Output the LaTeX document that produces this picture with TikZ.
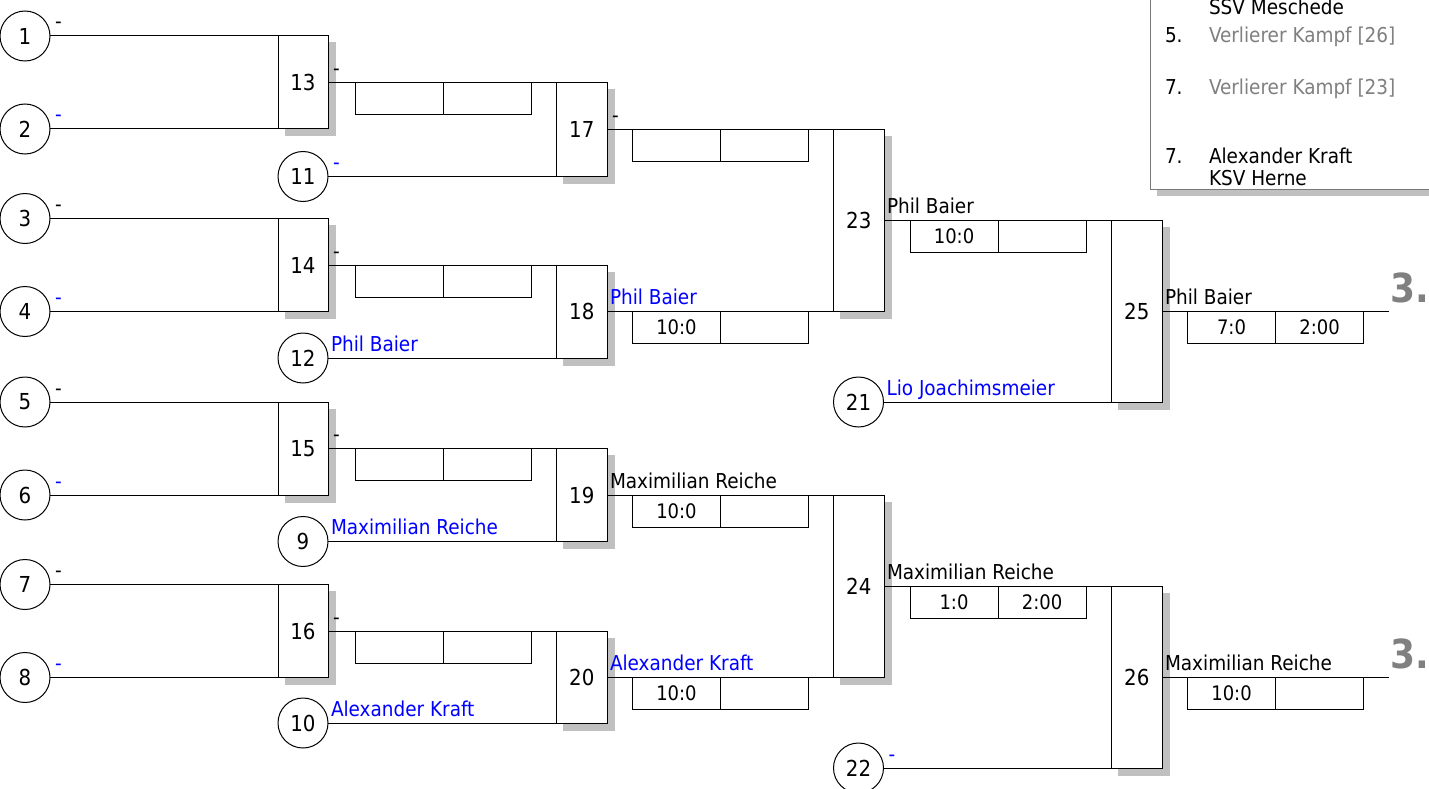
\documentclass[tikz,border=0pt]{standalone}
\usepackage{fontspec}
\setmainfont{DejaVu Sans Condensed}
\usetikzlibrary{shadows}
\definecolor{nameblue}{RGB}{0,0,255}
\definecolor{shadowgray}{RGB}{192,192,192}
\definecolor{placegray}{RGB}{128,128,128}
\definecolor{legendgray}{RGB}{120,120,120}
\definecolor{losergray}{RGB}{128,128,128}
\newcommand\numfnt{\fontsize{22}{26}\selectfont}
\newcommand\namefnt{\fontsize{20.5}{24}\selectfont}
\newcommand\scorefnt{\fontsize{20}{24}\selectfont}
\newcommand\placefnt{\fontsize{40}{44}\selectfont\bfseries}
\tikzset{
  every node/.style={outer sep=0pt},
  seed/.style={circle, draw=black, line width=1pt, fill=white, minimum size=50pt, inner sep=0pt, font=\numfnt},
  bout/.style={rectangle, draw=black, line width=1pt, fill=white, inner sep=0pt, minimum width=50.5pt,
    anchor=north west, font=\numfnt,
    drop shadow={shadow xshift=7pt, shadow yshift=-7pt, fill=shadowgray, draw=shadowgray, opacity=1}},
  cell/.style={rectangle, draw=black, line width=1pt, inner sep=0pt, minimum width=88pt, minimum height=32pt,
    anchor=north west, font=\scorefnt},
  lab/.style={anchor=base west, inner sep=0pt, font=\namefnt},
  bl/.style={lab, text=nameblue},
  place/.style={anchor=base west, inner sep=0pt, font=\placefnt, text=placegray},
  wire/.style={line width=1pt, draw=black}
}
\begin{document}
\begin{tikzpicture}[x=1pt,y=-1pt]
\useasboundingbox (0,0) rectangle (1429,789);

% legend
\begin{scope}
  \clip (0,0) rectangle (1429,789);
  \fill[shadowgray] (1157,-20) rectangle (1450,196);
  \draw[legendgray, line width=1pt, fill=white] (1150,-20) rectangle (1450,189);
\end{scope}
\node[lab] (lg1) at (1209,15) {SSV Meschede};
\node[lab] (lg2) at (1165,43) {5.};
\node[lab, text=losergray] (lg3) at (1209,43) {Verlierer Kampf [26]};
\node[lab] (lg4) at (1165,95) {7.};
\node[lab, text=losergray] (lg5) at (1209,95) {Verlierer Kampf [23]};
\node[lab] (lg6) at (1165,163) {7.};
\node[lab] (lg7) at (1209,163) {Alexander Kraft};
\node[lab] (lg8) at (1209,185) {KSV Herne};

% seeds
\node[seed] (c1) at (25,36) {1};
\node[seed] (c2) at (25,129) {2};
\node[seed] (c3) at (25,218.5) {3};
\node[seed] (c4) at (25,311.5) {4};
\node[seed] (c5) at (25,402) {5};
\node[seed] (c6) at (25,495) {6};
\node[seed] (c7) at (25,584.5) {7};
\node[seed] (c8) at (25,677.5) {8};
\node[seed] (c11) at (303,176.5) {11};
\node[seed] (c12) at (303,358) {12};
\node[seed] (c9) at (303,541.5) {9};
\node[seed] (c10) at (303,723) {10};
\node[seed] (c21) at (858.5,402) {21};
\node[seed] (c22) at (858.5,768) {22};

% bout boxes
\node[bout, minimum width=50pt, minimum height=93pt] (b13) at (278,36) {13};
\node[bout, minimum width=50pt, minimum height=93pt] (b14) at (278,218.5) {14};
\node[bout, minimum width=50pt, minimum height=93pt] (b15) at (278,402) {15};
\node[bout, minimum width=50pt, minimum height=93pt] (b16) at (278,584.5) {16};
\node[bout, minimum height=94pt] (b17) at (556.5,82.5) {17};
\node[bout, minimum height=93pt] (b18) at (556.5,265) {18};
\node[bout, minimum height=93pt] (b19) at (556.5,448.5) {19};
\node[bout, minimum height=92pt] (b20) at (556.5,631) {20};
\node[bout, minimum height=182pt] (b23) at (833.5,129.5) {23};
\node[bout, minimum height=182pt] (b24) at (833.5,495) {24};
\node[bout, minimum height=181.5pt] (b25) at (1111.5,220.5) {25};
\node[bout, minimum height=182pt] (b26) at (1111.5,586) {26};

\coordinate (f25) at (1389,311.25);
\coordinate (f26) at (1389,677);

% wires
\draw[wire] (c1.east) -- (c1.east -| b13.east);
\draw[wire] (c2.east) -- (c2.east -| b13.east);
\draw[wire] (c3.east) -- (c3.east -| b14.east);
\draw[wire] (c4.east) -- (c4.east -| b14.east);
\draw[wire] (c5.east) -- (c5.east -| b15.east);
\draw[wire] (c6.east) -- (c6.east -| b15.east);
\draw[wire] (c7.east) -- (c7.east -| b16.east);
\draw[wire] (c8.east) -- (c8.east -| b16.east);
\draw[wire] (b13.east) -- (b13.east -| b17.east);
\draw[wire] (c11.east) -- (c11.east -| b17.east);
\draw[wire] (b14.east) -- (b14.east -| b18.east);
\draw[wire] (c12.east) -- (c12.east -| b18.east);
\draw[wire] (b15.east) -- (b15.east -| b19.east);
\draw[wire] (c9.east) -- (c9.east -| b19.east);
\draw[wire] (b16.east) -- (b16.east -| b20.east);
\draw[wire] (c10.east) -- (c10.east -| b20.east);
\draw[wire] (b17.east) -- (b17.east -| b23.east);
\draw[wire] (b18.east) -- (b18.east -| b23.east);
\draw[wire] (b19.east) -- (b19.east -| b24.east);
\draw[wire] (b20.east) -- (b20.east -| b24.east);
\draw[wire] (b23.east) -- (b23.east -| b25.east);
\draw[wire] (c21.east) -- (c21.east -| b25.east);
\draw[wire] (b24.east) -- (b24.east -| b26.east);
\draw[wire] (c22.east) -- (c22.east -| b26.east);
\draw[wire] (b25.east) -- (b25.east -| f25);
\draw[wire] (b26.east) -- (b26.east -| f26);

% score cells
\node[cell] (s13a) at ([xshift=27pt]b13.east) {};
\node[cell] (s13b) at (s13a.north east) {};
\node[cell] (s14a) at ([xshift=27pt]b14.east) {};
\node[cell] (s14b) at (s14a.north east) {};
\node[cell] (s15a) at ([xshift=27pt]b15.east) {};
\node[cell] (s15b) at (s15a.north east) {};
\node[cell] (s16a) at ([xshift=27pt]b16.east) {};
\node[cell] (s16b) at (s16a.north east) {};
\node[cell] (s17a) at ([xshift=25.5pt]b17.east) {};
\node[cell] (s17b) at (s17a.north east) {};
\node[cell] (s18a) at ([xshift=25.5pt]b18.east) {10:0};
\node[cell] (s18b) at (s18a.north east) {};
\node[cell] (s19a) at ([xshift=25.5pt]b19.east) {10:0};
\node[cell] (s19b) at (s19a.north east) {};
\node[cell] (s20a) at ([xshift=25.5pt]b20.east) {10:0};
\node[cell] (s20b) at (s20a.north east) {};
\node[cell] (s23a) at ([xshift=26pt]b23.east) {10:0};
\node[cell] (s23b) at (s23a.north east) {};
\node[cell] (s24a) at ([xshift=26pt]b24.east) {1:0};
\node[cell] (s24b) at (s24a.north east) {2:00};
\node[cell] (s25a) at ([xshift=25.5pt]b25.east) {7:0};
\node[cell] (s25b) at (s25a.north east) {2:00};
\node[cell] (s26a) at ([xshift=25.5pt]b26.east) {10:0};
\node[cell] (s26b) at (s26a.north east) {};

% labels above wires
\node[lab] (n1) at ([xshift=5pt,yshift=7pt]c1.east) {-};
\node[bl]  (n2) at ([xshift=5pt,yshift=7pt]c2.east) {-};
\node[lab] (n3) at ([xshift=5pt,yshift=7pt]c3.east) {-};
\node[bl]  (n4) at ([xshift=5pt,yshift=7pt]c4.east) {-};
\node[lab] (n5) at ([xshift=5pt,yshift=7pt]c5.east) {-};
\node[bl]  (n6) at ([xshift=5pt,yshift=7pt]c6.east) {-};
\node[lab] (n7) at ([xshift=5pt,yshift=7pt]c7.east) {-};
\node[bl]  (n8) at ([xshift=5pt,yshift=7pt]c8.east) {-};
\node[lab] (n13) at ([xshift=5pt,yshift=7pt]b13.east) {-};
\node[lab] (n14) at ([xshift=5pt,yshift=7pt]b14.east) {-};
\node[lab] (n15) at ([xshift=5pt,yshift=7pt]b15.east) {-};
\node[lab] (n16) at ([xshift=5pt,yshift=7pt]b16.east) {-};
\node[bl]  (n11) at ([xshift=5pt,yshift=7pt]c11.east) {-};
\node[bl]  (n12) at ([xshift=3pt,yshift=7pt]c12.east) {Phil Baier};
\node[bl]  (n9)  at ([xshift=3pt,yshift=7pt]c9.east) {Maximilian Reiche};
\node[bl]  (n10) at ([xshift=3pt,yshift=7pt]c10.east) {Alexander Kraft};
\node[lab] (n17) at ([xshift=5pt,yshift=7pt]b17.east) {-};
\node[bl]  (n18) at ([xshift=3pt,yshift=7pt]b18.east) {Phil Baier};
\node[lab] (n19) at ([xshift=3pt,yshift=7pt]b19.east) {Maximilian Reiche};
\node[bl]  (n20) at ([xshift=3pt,yshift=7pt]b20.east) {Alexander Kraft};
\node[lab] (n23) at ([xshift=3pt,yshift=7pt]b23.east) {Phil Baier};
\node[lab] (n24) at ([xshift=3pt,yshift=7pt]b24.east) {Maximilian Reiche};
\node[bl]  (n21) at ([xshift=3pt,yshift=7pt]c21.east) {Lio Joachimsmeier};
\node[bl]  (n22) at ([xshift=5pt,yshift=7pt]c22.east) {-};
\node[lab] (n25) at ([xshift=3pt,yshift=7pt]b25.east) {Phil Baier};
\node[lab] (n26) at ([xshift=3pt,yshift=7pt]b26.east) {Maximilian Reiche};

% places
\node[place] (p25) at ([xshift=1pt,yshift=9pt]f25) {3.};
\node[place] (p26) at ([xshift=1pt,yshift=9pt]f26) {3.};
\end{tikzpicture}
\end{document}
